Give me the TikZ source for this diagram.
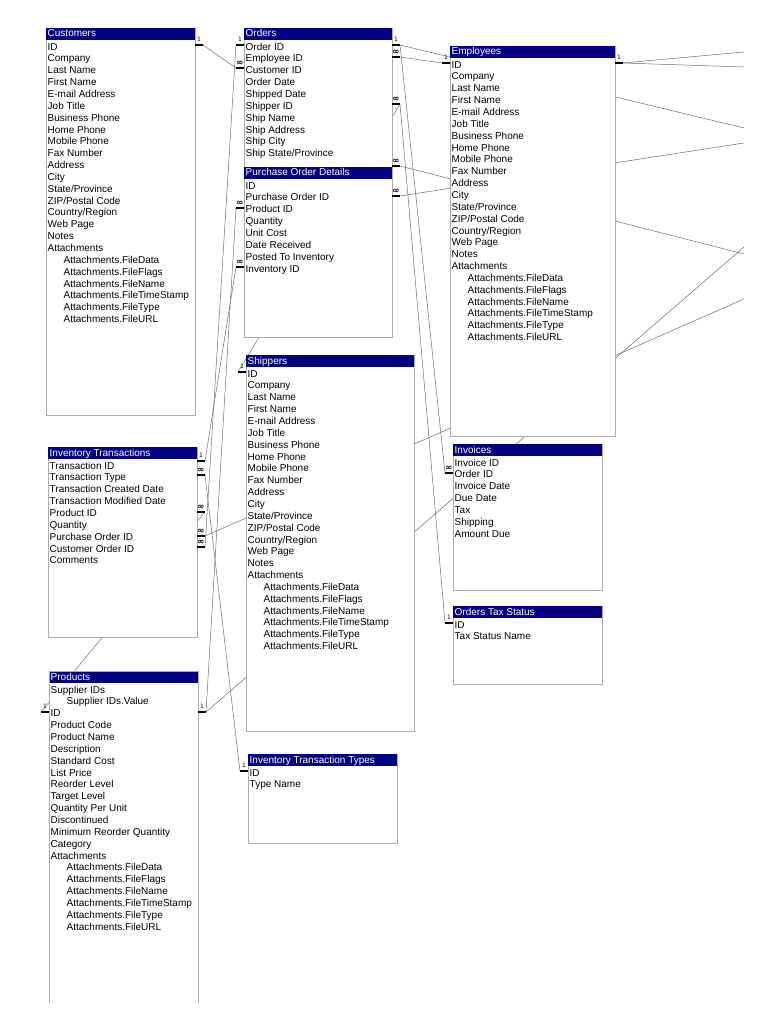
\documentclass[tikz,border=0pt]{standalone}
\usepackage{fontspec}
\setmainfont{Liberation Sans}
\newfontfamily\symfont{DejaVu Sans}
\usetikzlibrary{calc}
\pgfdeclarelayer{bg}
\pgfsetlayers{bg,main}
\definecolor{hdr}{RGB}{0,0,128}
\definecolor{relc}{RGB}{110,110,110}
\newcommand\slh{/}
\tikzset{
  tbody/.style={draw=gray!65, fill=white, line width=0.8pt, inner sep=0pt, anchor=north west},
  thead/.style={fill=hdr, inner sep=0pt, anchor=north west, minimum height=11.5pt},
  ttitle/.style={anchor=base west, inner sep=0pt, text=white, font=\fontsize{10}{12}\selectfont},
  field/.style={anchor=base west, inner sep=0pt, font=\fontsize{10}{12}\selectfont},
  rel/.style={draw=relc, line width=0.5pt},
  stub/.style={draw=black, line width=2pt},
  cardlbl/.style={inner sep=0pt, font=\symfont\fontsize{6}{6}\selectfont},
  manylbl/.style={inner sep=0pt, font=\symfont\bfseries\fontsize{8.5}{8.5}\selectfont},
}
% name, xl, xr, ytop, ybot, title, fields, body options
\newcommand\erdtab[8]{%
  \pgfmathsetmacro\tw{#3-#2}%
  \pgfmathsetmacro\th{#5-#4}%
  \node[tbody, minimum width=\tw pt, minimum height=\th pt, #8] (#1) at (#2,#4) {};
  \node[thead, minimum width=\tw pt] (#1-h) at (#2,#4) {};
  \node[ttitle] (#1-t) at (#2+1.5,#4+9) {#6};
  \foreach \fldname/\fldind [count=\k] in {#7} {
    \node[field] (#1-\k) at ({#2+1.5+16*\fldind},{#4+18.5+3.6+(\k-1)*11.85}) {\fldname};
  }
}
% name, edge x, y, direction  (one side)
\newcommand\relone[4]{%
  \coordinate (#1-in) at (#2,#3);
  \coordinate (#1) at (#2+#4*8,#3);
  \draw[stub] (#1-in) -- (#1);
  \node[cardlbl] (#1-l) at (#2+#4*4,#3-5.5) {1};
}
% name, edge x, y, direction  (many side)
\newcommand\relmany[4]{%
  \coordinate (#1-in) at (#2,#3);
  \coordinate (#1) at (#2+#4*8,#3);
  \draw[stub] (#1-in) -- (#1);
  \node[manylbl] (#1-l) at (#2+#4*4,#3-5) {∞};
}
\begin{document}
\begin{tikzpicture}[x=1pt,y=-1pt]
\useasboundingbox (0,0) rectangle (768,1024);
\begin{pgfonlayer}{bg}
\fill[white] (0,0) rectangle (768,1024);
\end{pgfonlayer}

\erdtab{cust}{46}{195}{28}{415}{Customers}{ID/0, Company/0, Last Name/0, First Name/0, E-mail Address/0, Job Title/0, Business Phone/0, Home Phone/0, Mobile Phone/0, Fax Number/0, Address/0, City/0, State\slh Province/0, ZIP\slh Postal Code/0, Country\slh Region/0, Web Page/0, Notes/0, Attachments/0, Attachments.FileData/1, Attachments.FileFlags/1, Attachments.FileName/1, Attachments.FileTimeStamp/1, Attachments.FileType/1, Attachments.FileURL/1}{}

\erdtab{ord}{244}{392}{28}{167}{Orders}{Order ID/0, Employee ID/0, Customer ID/0, Order Date/0, Shipped Date/0, Shipper ID/0, Ship Name/0, Ship Address/0, Ship City/0, Ship State\slh Province/0}{}

\erdtab{pod}{244}{392}{167}{337}{Purchase Order Details}{ID/0, Purchase Order ID/0, Product ID/0, Quantity/0, Unit Cost/0, Date Received/0, Posted To Inventory/0, Inventory ID/0}{}

\erdtab{emp}{450}{615}{46}{436}{Employees}{ID/0, Company/0, Last Name/0, First Name/0, E-mail Address/0, Job Title/0, Business Phone/0, Home Phone/0, Mobile Phone/0, Fax Number/0, Address/0, City/0, State\slh Province/0, ZIP\slh Postal Code/0, Country\slh Region/0, Web Page/0, Notes/0, Attachments/0, Attachments.FileData/1, Attachments.FileFlags/1, Attachments.FileName/1, Attachments.FileTimeStamp/1, Attachments.FileType/1, Attachments.FileURL/1}{}

\erdtab{ship}{246}{414}{355}{731}{Shippers}{ID/0, Company/0, Last Name/0, First Name/0, E-mail Address/0, Job Title/0, Business Phone/0, Home Phone/0, Mobile Phone/0, Fax Number/0, Address/0, City/0, State\slh Province/0, ZIP\slh Postal Code/0, Country\slh Region/0, Web Page/0, Notes/0, Attachments/0, Attachments.FileData/1, Attachments.FileFlags/1, Attachments.FileName/1, Attachments.FileTimeStamp/1, Attachments.FileType/1, Attachments.FileURL/1}{}

\erdtab{inv}{453}{602}{444}{590}{Invoices}{Invoice ID/0, Order ID/0, Invoice Date/0, Due Date/0, Tax/0, Shipping/0, Amount Due/0}{}

\erdtab{ots}{453}{602}{606}{684}{Orders Tax Status}{ID/0, Tax Status Name/0}{}

\erdtab{it}{48}{197}{447}{637}{Inventory Transactions}{Transaction ID/0, Transaction Type/0, Transaction Created Date/0, Transaction Modified Date/0, Product ID/0, Quantity/0, Purchase Order ID/0, Customer Order ID/0, Comments/0}{}

\erdtab{prod}{49}{198}{671}{1002}{Products}{Supplier IDs/0, Supplier IDs.Value/1, ID/0, Product Code/0, Product Name/0, Description/0, Standard Cost/0, List Price/0, Reorder Level/0, Target Level/0, Quantity Per Unit/0, Discontinued/0, Minimum Reorder Quantity/0, Category/0, Attachments/0, Attachments.FileData/1, Attachments.FileFlags/1, Attachments.FileName/1, Attachments.FileTimeStamp/1, Attachments.FileType/1, Attachments.FileURL/1}{draw=none}
\draw[draw=gray!65, line width=0.8pt] (prod.south west) -- (prod.north west) -- (prod.north east) -- (prod.south east);

\erdtab{itt}{248}{397}{754}{843}{Inventory Transaction Types}{ID/0, Type Name/0}{}

% relationship end points
\relone{custID}{195}{45}{1}
\relmany{ordCust}{244}{68}{-1}
\relone{ordIDl}{244}{45}{-1}
\relone{ordIDr}{392}{45}{1}
\relmany{ordEmp}{392}{57}{1}
\relmany{ordShip}{392}{104}{1}
\relmany{ordX}{392}{166}{1}
\relmany{podPO}{392}{196}{1}
\relmany{podProd}{244}{208}{-1}
\relmany{podInv}{244}{267}{-1}
\relone{empIDl}{450}{63}{-1}
\relone{empIDr}{615}{63}{1}
\relone{shipID}{246}{372}{-1}
\relmany{invOrd}{453}{473}{-1}
\relone{otsID}{453}{623}{-1}
\relone{itTID}{197}{461}{1}
\relmany{itType}{197}{475}{1}
\relmany{itProd}{197}{512}{1}
\relmany{itPO}{197}{536}{1}
\relmany{itCust}{197}{547}{1}
\relone{prodIDl}{49}{712}{-1}
\relone{prodIDr}{198}{712}{1}
\relone{ittID}{248}{771}{-1}

% free ends leaving the picture on the right
\coordinate (offE1) at (744,52);
\coordinate (offE2) at (744,67);
\coordinate (offOD2) at (744,128);
\coordinate (offPO) at (744,143);
\coordinate (offOD) at (744,247);
\coordinate (offX) at (744,254);
\coordinate (offPO2) at (744,299);

\begin{pgfonlayer}{bg}
\draw[rel] (custID) -- (ordCust);
\draw[rel] (ordIDl) -- (itCust);
\draw[rel] (prodIDr) -- (podProd);
\draw[rel] (itTID) -- (podInv);
\draw[rel] (itType) -- (ittID);
\draw[rel] (prodIDl) -- (itProd);
\draw[rel] (itPO) -- (offPO2);
\draw[rel] (prodIDr) -- (offOD);
\draw[rel] (ordShip) -- (shipID);
\draw[rel] (ordIDr) -- (invOrd);
\draw[rel] (ordIDr) -- (offOD2);
\draw[rel] (ordEmp) -- (empIDl);
\draw[rel] (ordX) -- (offX);
\draw[rel] (podPO) -- (offPO);
\draw[rel] (ordShip) -- (otsID);
\draw[rel] (empIDr) -- (offE1);
\draw[rel] (empIDr) -- (offE2);
\end{pgfonlayer}
\end{tikzpicture}
\end{document}
